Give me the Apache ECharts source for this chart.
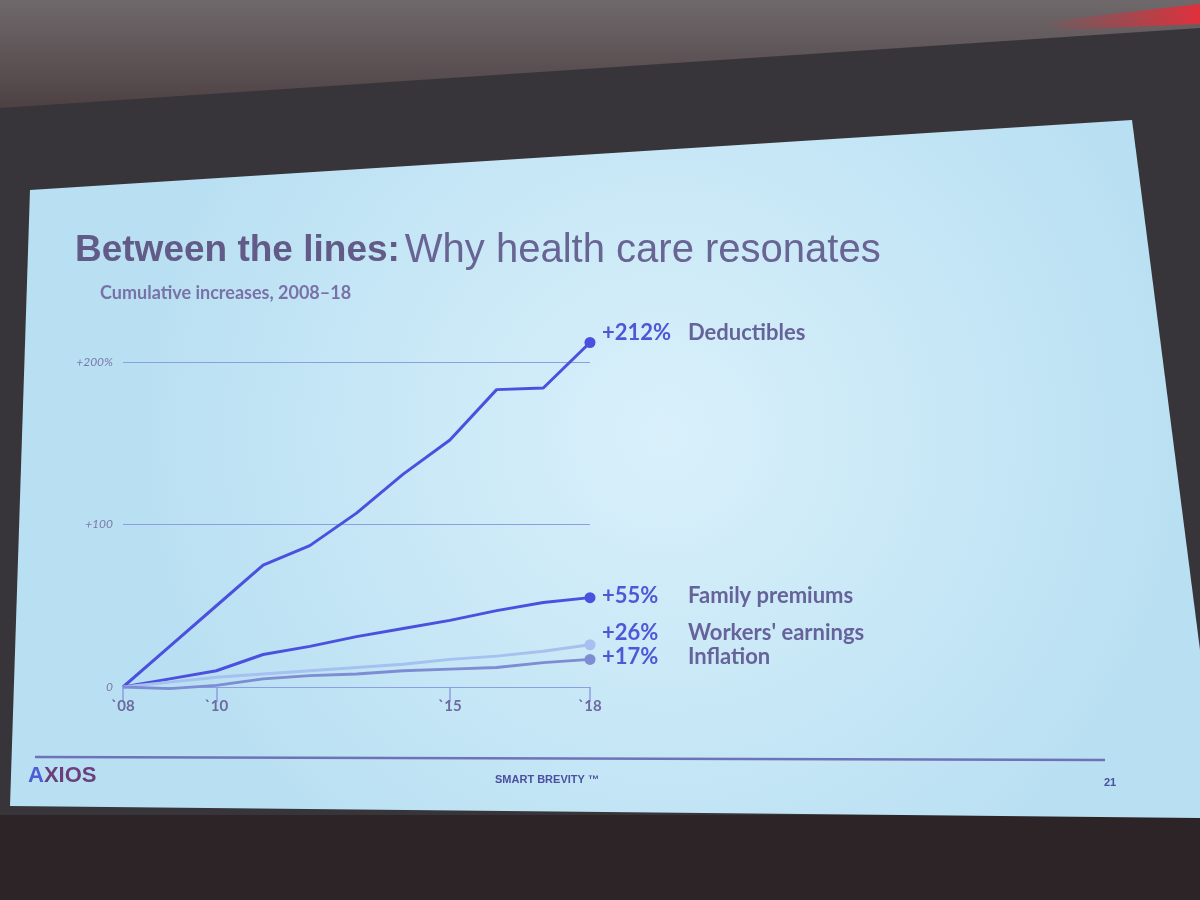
<!DOCTYPE html>
<html>
<head>
<meta charset="utf-8">
<title>Between the lines: Why health care resonates</title>
<script src="https://cdn.jsdelivr.net/npm/echarts@6/dist/echarts.min.js"></script>
<style>
  html, body { margin: 0; padding: 0; background: #2f2b2e; }
  #main { width: 1200px; height: 900px; }
</style>
</head>
<body>
<div id="main"></div>
<script>
// cumulative increases since 2008, in percent
const years = ['2008', '2009', '2010', '2011', '2012', '2013', '2014', '2015', '2016', '2017', '2018'];
const deductibles = [0, 25, 50, 75, 87, 107, 131, 152, 183, 184, 212];
const familyPremiums = [0, 5, 10, 20, 25, 31, 36, 41, 47, 52, 55];
const workersEarnings = [0, 3, 6, 8, 10, 12, 14, 17, 19, 22, 26];
const inflation = [0, -1, 1, 5, 7, 8, 10, 11, 12, 15, 17];
const shownYears = [0, 2, 7, 10];
const yTicks = { 0: '0', 100: '+100', 200: '+200%' };

const chart = echarts.init(document.getElementById('main'));

const labelFont = 'Lato, "Noto Sans", sans-serif';
const slideFont = '"Liberation Sans", Arial, sans-serif';
const narrowFont = '"Liberation Sans Narrow", "Liberation Sans", sans-serif';
const gridColor = '#8c9fe4';

function endLabel(pct, name, dy) {
  return {
    show: true,
    distance: 12,
    offset: [0, dy],
    formatter: '{v|' + pct + '}{n|' + name + '}',
    rich: {
      v: { width: 86, color: '#4f57d6', fontSize: 22, fontWeight: 'bold', fontFamily: labelFont },
      n: { color: '#66639a', fontSize: 22, fontWeight: 'bold', fontFamily: labelFont }
    }
  };
}

function lastDot(val, params) {
  return params.dataIndex === years.length - 1 ? 11 : 0;
}

function line(name, data, color, pct, dy) {
  return {
    name: name,
    type: 'line',
    data: data,
    clip: false,
    symbol: 'circle',
    symbolSize: lastDot,
    lineStyle: { color: color, width: 3 },
    itemStyle: { color: color },
    endLabel: endLabel(pct, name, dy),
    emphasis: { disabled: true }
  };
}

const option = {
  animation: false,
  title: {
    left: 70,
    top: 226,
    text: '{b|Between the lines:} {r|Why health care resonates}',
    textStyle: {
      rich: {
        b: { fontFamily: slideFont, fontSize: 37, fontWeight: 'bold', color: '#625b88' },
        r: { fontFamily: slideFont, fontSize: 40, fontWeight: 'normal', color: '#686494' }
      }
    }
  },
  graphic: [
    // room around the projected slide
    { type: 'rect', z: -20, shape: { x: 0, y: 0, width: 1200, height: 900 }, style: { fill: '#2e2a2d' } },
    {
      type: 'rect', z: -19, shape: { x: 0, y: 0, width: 1200, height: 110 },
      style: {
        fill: new echarts.graphic.LinearGradient(0, 0, 0, 1, [
          { offset: 0, color: '#6f696b' }, { offset: 1, color: '#4d4043' }
        ])
      }
    },
    {
      type: 'polygon', z: -19, shape: { points: [[1040, 22], [1200, 4], [1200, 24], [1060, 30]] },
      style: {
        fill: new echarts.graphic.LinearGradient(0, 0, 1, 0, [
          { offset: 0, color: 'rgba(200,50,60,0)' }, { offset: 1, color: '#e0303c' }
        ])
      }
    },
    {
      type: 'polygon', z: -18, shape: { points: [[0, 108], [1200, 28], [1200, 900], [0, 900]] },
      style: { fill: '#38353a' }
    },
    {
      type: 'rect', z: -18, shape: { x: 0, y: 815, width: 1200, height: 85 },
      style: { fill: '#2c2427' }
    },
    {
      type: 'polygon', z: -17,
      shape: { points: [[30, 190], [1132, 120], [1200, 650], [1200, 818], [10, 806]] },
      style: {
        fill: new echarts.graphic.RadialGradient(0.55, 0.45, 0.75, [
          { offset: 0, color: '#d9f0fb' }, { offset: 1, color: '#b9e0f2' }
        ])
      }
    },
    {
      type: 'text', left: 100, top: 284,
      style: { text: 'Cumulative increases, 2008–18', fontFamily: labelFont, fontSize: 18, fontWeight: 'bold', fill: '#7872a8' }
    },
    // footer
    {
      type: 'line', shape: { x1: 35, y1: 757, x2: 1105, y2: 760 },
      style: { stroke: '#6f72b8', lineWidth: 2.5 }
    },
    {
      type: 'text', left: 28, top: 765,
      style: {
        text: '{a|A}{b|XIOS}',
        rich: {
          a: { fontFamily: narrowFont, fontSize: 22, fontWeight: 'bold', fill: '#4d5bd6' },
          b: { fontFamily: narrowFont, fontSize: 22, fontWeight: 'bold', fill: '#6a3f7c' }
        }
      }
    },
    {
      type: 'text', left: 495, top: 774,
      style: { text: 'SMART BREVITY ™', fontFamily: narrowFont, fontSize: 11, fontWeight: 'bold', fill: '#4b4fa0' }
    },
    {
      type: 'text', left: 1104, top: 777,
      style: { text: '21', fontFamily: narrowFont, fontSize: 11, fontWeight: 'bold', fill: '#4b4fa0' }
    }
  ],
  grid: { left: 123, right: 610, top: 362, bottom: 213 },
  xAxis: {
    type: 'category',
    data: years,
    boundaryGap: false,
    axisLine: { lineStyle: { color: gridColor, width: 1 } },
    axisTick: {
      show: true, length: 15,
      interval: (idx) => shownYears.includes(idx),
      lineStyle: { color: gridColor, width: 1.5 }
    },
    axisLabel: {
      interval: (idx) => shownYears.includes(idx),
      formatter: (v) => '`' + v.slice(2),
      color: '#6c6aa0', fontSize: 15, fontWeight: 'bold', fontFamily: labelFont, margin: 12
    }
  },
  yAxis: {
    type: 'value',
    min: 0,
    max: 200,
    interval: 100,
    axisLine: { show: false },
    axisTick: { show: false },
    splitLine: { lineStyle: { color: gridColor, width: 1 } },
    axisLabel: {
      formatter: (v) => yTicks[v] || '',
      color: '#7c78aa', fontSize: 12, fontStyle: 'italic', fontFamily: labelFont, margin: 10
    }
  },
  series: [
    line('Deductibles', deductibles, '#4a51df', '+212%', -10),
    line('Family premiums', familyPremiums, '#4a51df', '+55%', -2),
    line("Workers' earnings", workersEarnings, '#a6c0f0', '+26%', -12),
    line('Inflation', inflation, '#7e8cd4', '+17%', -2)
  ]
};

chart.setOption(option);
</script>
</body>
</html>
